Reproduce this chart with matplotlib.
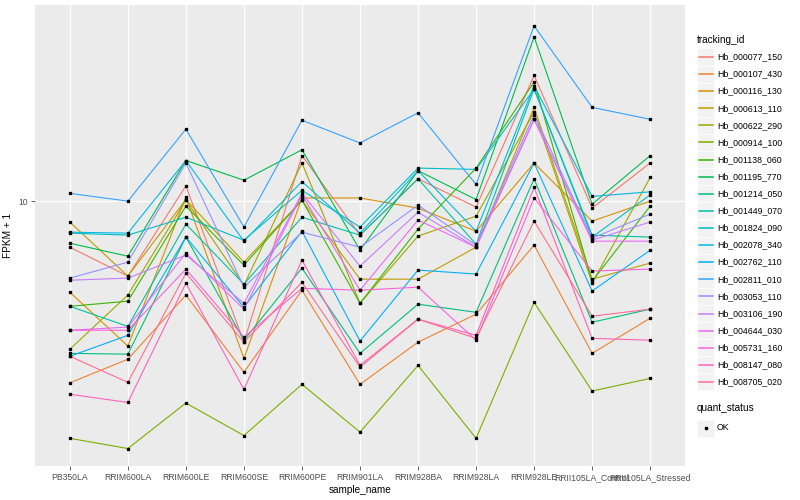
import matplotlib
matplotlib.use("Agg")
import matplotlib.pyplot as plt
from matplotlib.lines import Line2D
from matplotlib.patches import Rectangle
from matplotlib.ticker import FixedLocator, NullLocator

plt.rcParams['font.family'] = ['Liberation Sans', 'DejaVu Sans']

samples = ["PB350LA", "RRIM600LA", "RRIM600LE", "RRIM600SE", "RRIM600PE",
           "RRIM901LA", "RRIM928BA", "RRIM928LA", "RRIM928LE",
           "RRII105LA_Control", "RRII105LA_Stressed"]

ids = ["Hb_000077_150", "Hb_000107_430", "Hb_000116_130", "Hb_000613_110",
       "Hb_000622_290", "Hb_000914_100", "Hb_001138_060", "Hb_001195_770",
       "Hb_001214_050", "Hb_001449_070", "Hb_001824_090", "Hb_002078_340",
       "Hb_002762_110", "Hb_002811_010", "Hb_003053_110", "Hb_003106_190",
       "Hb_004644_030", "Hb_005731_160", "Hb_008147_080", "Hb_008705_020"]

# FPKM + 1 per gene, one value per sample
fpkm = [
    [7.49, 6.25, 11.0, 4.13, 13.3, 8.08, 11.5, 9.63, 22.0, 9.57, 12.7],
    [3.20, 3.71, 5.55, 3.42, 5.72, 3.17, 4.13, 4.92, 7.59, 3.85, 4.80],
    [5.65, 4.03, 10.25, 3.73, 10.2, 10.2, 9.57, 8.28, 12.7, 8.82, 10.0],
    [8.77, 6.25, 10.1, 6.82, 10.06, 6.13, 6.13, 7.49, 18.0, 6.13, 6.78],
    [3.95, 5.55, 10.06, 5.90, 12.7, 5.27, 8.03, 9.10, 17.5, 5.98, 11.6],
    [2.26, 2.12, 2.82, 2.30, 3.17, 2.35, 3.57, 2.26, 5.30, 3.04, 3.29],
    [5.17, 5.34, 9.69, 6.69, 10.06, 5.27, 8.39, 12.3, 21.1, 6.05, 9.69],
    [7.68, 7.08, 12.9, 11.4, 13.8, 7.35, 12.1, 10.1, 28.0, 9.81, 13.3],
    [3.85, 3.83, 7.98, 4.18, 6.57, 3.85, 5.24, 4.98, 11.5, 4.68, 5.08],
    [5.17, 4.56, 8.66, 5.94, 9.04, 8.08, 11.5, 7.63, 20.2, 8.08, 7.98],
    [8.18, 8.08, 9.04, 7.83, 10.7, 8.50, 12.3, 12.2, 20.2, 7.98, 10.4],
    [8.23, 8.18, 12.9, 7.78, 11.3, 8.18, 12.1, 8.28, 20.6, 10.3, 10.6],
    [3.78, 4.31, 7.98, 5.14, 8.28, 4.16, 6.49, 6.33, 12.7, 5.69, 7.35],
    [10.5, 10.0, 15.7, 8.50, 16.6, 14.4, 17.4, 11.1, 30.0, 18.0, 16.7],
    [6.17, 6.82, 12.7, 5.83, 8.23, 7.49, 9.75, 7.59, 17.2, 7.93, 9.22],
    [6.09, 6.17, 7.13, 5.27, 10.5, 6.65, 9.33, 7.49, 16.7, 7.83, 8.77],
    [4.45, 4.54, 7.22, 5.08, 10.4, 5.72, 8.88, 7.49, 16.7, 7.78, 7.78],
    [4.45, 4.45, 6.53, 4.26, 5.79, 5.72, 5.83, 4.18, 10.2, 6.45, 6.53],
    [2.98, 2.83, 5.98, 3.07, 6.91, 3.57, 4.77, 4.31, 10.9, 4.23, 4.18],
    [3.78, 3.21, 6.37, 4.13, 6.01, 3.53, 4.77, 4.23, 8.82, 4.86, 5.08],
]

colors = ["#F8766D", "#EA8331", "#D89000", "#C09B00", "#A3A500", "#7CAE00",
          "#39B600", "#00BB4E", "#00BF7D", "#00C1A3", "#00BFC4", "#00BAE0",
          "#00B0F6", "#35A2FF", "#9590FF", "#C77CFF", "#E76BF3", "#FA62DB",
          "#FF62BC", "#FF6C91"]

fig = plt.figure(figsize=(8, 5), dpi=100)
ax = fig.add_axes([35/800, 1-466/500, 650/800, 461/500])
ax.set_facecolor("#EBEBEB")
for s in ax.spines.values():
    s.set_visible(False)

xs = list(range(len(samples)))
for vals, c in zip(fpkm, colors):
    ax.plot(xs, vals, color=c, lw=0.8, zorder=2)
for vals in fpkm:
    ax.plot(xs, vals, ls="none", marker="s", ms=2.1, color="black", zorder=3)

ax.set_yscale("log")
ax.set_ylim(1.9, 34.2)
ax.yaxis.set_major_locator(FixedLocator([10]))
ax.yaxis.set_minor_locator(NullLocator())
ax.set_yticklabels(["10"])
ax.set_xlim(-0.6, len(samples) - 0.4)
ax.set_xticks(xs)
ax.set_xticklabels(samples)
ax.grid(True, color="white", lw=1.0, zorder=0)
ax.set_axisbelow(True)
ax.tick_params(colors="#4D4D4D", labelsize=6.2, length=3, width=0.6,
               labelcolor="#4D4D4D", pad=2)
ax.set_xlabel("sample_name", fontsize=7.2, labelpad=2)
ax.set_ylabel("FPKM + 1", fontsize=7.2, labelpad=4)

# legend drawn by hand, ggplot style
fig.text(697/800, 1-40/500, "tracking_id", fontsize=7.2, va="center")
for i, (name, c) in enumerate(zip(ids, colors)):
    yc = 57 + i * 17.1
    fig.patches.append(Rectangle((697/800, 1-(yc+8.5)/500), 17/800, 17/500,
                                 transform=fig.transFigure, fc="#F2F2F2",
                                 ec="white", lw=0.5, zorder=1))
    fig.lines.append(Line2D([698.5/800, 712.5/800], [1-yc/500, 1-yc/500],
                            transform=fig.transFigure, color=c, lw=1.1,
                            zorder=5))
    fig.text(717/800, 1-yc/500, name, fontsize=6.3, va="center")

fig.text(697/800, 1-408/500, "quant_status", fontsize=7.2, va="center")
fig.patches.append(Rectangle((697/800, 1-(428+8.5)/500), 17/800, 17/500,
                             transform=fig.transFigure, fc="#F2F2F2",
                             ec="white", lw=0.5, zorder=1))
fig.lines.append(Line2D([705.5/800], [1-428/500], transform=fig.transFigure,
                        marker="s", ms=2.1, color="black", ls="none",
                        zorder=5))
fig.text(717/800, 1-428/500, "OK", fontsize=6.3, va="center")

fig.savefig("out.png", dpi=100)
